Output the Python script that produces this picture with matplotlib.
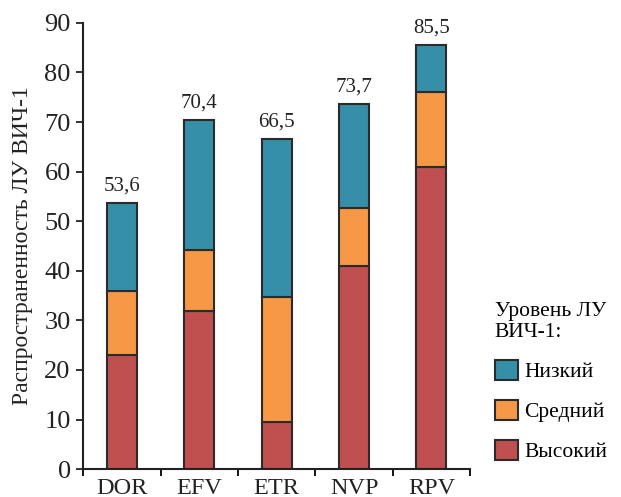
import matplotlib
matplotlib.use("Agg")
import matplotlib.pyplot as plt
import numpy as np
from matplotlib.patches import Patch

drugs = ["DOR", "EFV", "ETR", "NVP", "RPV"]
high = [23.0, 31.9, 9.5, 40.9, 61.0]
mid = [12.9, 12.2, 25.2, 11.7, 15.1]
totals = [53.6, 70.4, 66.5, 73.7, 85.5]
total_labels = ["53,6", "70,4", "66,5", "73,7", "85,5"]
low = [t - h - m for t, h, m in zip(totals, high, mid)]

c_low = "#368fa8"
c_mid = "#f69846"
c_high = "#c0504f"
edge = "#2b2b2b"
txt = "#222222"

plt.rcParams["font.family"] = ["Liberation Serif", "DejaVu Serif"]

fig = plt.figure(figsize=(6.21, 4.97), dpi=100)
ax = fig.add_axes([0.134, 0.056, 0.623, 0.898])

x = np.arange(len(drugs))
w = 0.39
kw = dict(width=w, edgecolor=edge, linewidth=1.5)
ax.bar(x, high, color=c_high, **kw)
ax.bar(x, mid, bottom=high, color=c_mid, **kw)
bottom2 = [h + m for h, m in zip(high, mid)]
ax.bar(x, low, bottom=bottom2, color=c_low, **kw)

for xi, t, lab in zip(x, totals, total_labels):
    ax.text(xi, t + 1.5, lab, ha="center", va="bottom", fontsize=15, color=txt)

ax.set_xlim(-0.5, 4.5)
ax.set_ylim(0, 90)
ax.set_yticks(range(0, 91, 10))
ax.tick_params(axis="y", labelsize=19, length=5, width=1.3, colors=txt, pad=4)
ax.set_xticks(np.arange(-0.5, 5, 1.0))
ax.set_xticklabels([])
ax.set_xticks(x, minor=True)
ax.set_xticklabels(drugs, minor=True)
ax.tick_params(axis="x", which="major", length=5, width=1.3)
ax.tick_params(axis="x", which="minor", length=0, labelsize=17.5, pad=6, colors=txt)

for s in ["top", "right"]:
    ax.spines[s].set_visible(False)
for s in ["left", "bottom"]:
    ax.spines[s].set_linewidth(1.5)
    ax.spines[s].set_color(txt)

ax.set_ylabel("Распространенность ЛУ ВИЧ-1", fontsize=17, color=txt, labelpad=8)

handles = [
    Patch(facecolor=c_low, edgecolor=edge, linewidth=1.5, label="Низкий"),
    Patch(facecolor=c_mid, edgecolor=edge, linewidth=1.5, label="Средний"),
    Patch(facecolor=c_high, edgecolor=edge, linewidth=1.5, label="Высокий"),
]
leg = fig.legend(
    handles=handles,
    title="Уровень ЛУ\nВИЧ-1:",
    loc="upper left",
    bbox_to_anchor=(0.797, 0.393),
    frameon=False,
    fontsize=15.5,
    title_fontsize=15.5,
    handlelength=1.05,
    handleheight=1.05,
    handletextpad=0.3,
    labelspacing=0.82,
    borderpad=0,
    borderaxespad=0,
)
leg._legend_box.align = "left"

fig.savefig("out.png", dpi=100)
